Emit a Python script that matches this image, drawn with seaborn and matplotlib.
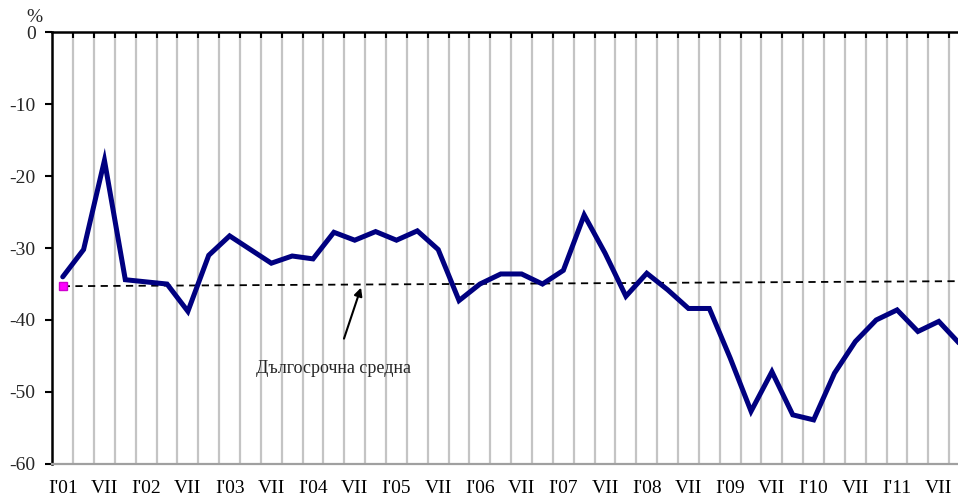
import numpy as np
import pandas as pd
import matplotlib
matplotlib.use("Agg")
import matplotlib.pyplot as plt
import seaborn as sns

# ---- data (quarterly, Q1 2001 .. Q4 2011) ----
values = [-34.0, -30.2, -17.8, -34.4, -34.7, -35.0, -38.8, -31.0,
          -28.3, -30.2, -32.1, -31.1, -31.5, -27.8, -28.9, -27.7,
          -28.9, -27.6, -30.2, -37.3, -35.0, -33.6, -33.6, -35.0,
          -33.1, -25.4, -30.7, -36.7, -33.5, -35.8, -38.4, -38.4,
          -45.3, -52.7, -47.2, -53.2, -53.9, -47.4, -43.0, -40.0,
          -38.6, -41.6, -40.2, -43.3]
tick_labels = ["I'01", "VII", "I'02", "VII", "I'03", "VII", "I'04", "VII",
               "I'05", "VII", "I'06", "VII", "I'07", "VII", "I'08", "VII",
               "I'09", "VII", "I'10", "VII", "I'11", "VII"]
avg_idx = [0, 43]
avg_values = [-35.3, -34.6]
avg_label = "Дългосрочна средна"
y_unit = "%"

sns.set_style("white")
plt.rcParams['font.family'] = ['Liberation Serif', 'DejaVu Serif']

n = len(values)
df = pd.DataFrame({"q": np.arange(n), "v": values})
avg_df = pd.DataFrame({"q": avg_idx, "v": avg_values})

fig = plt.figure(figsize=(9.58, 4.99), dpi=100)
ax = fig.add_axes([0.0546, 0.0707, 0.958, 0.8642])

# vertical grid lines at category boundaries
ax.set_xticks(np.arange(n) + 0.5, minor=True)
ax.grid(which='minor', axis='x', color='#c4c4c4', lw=1.6, zorder=0)
ax.grid(which='major', visible=False)

sns.lineplot(data=avg_df, x="q", y="v", ax=ax, color='black', lw=1.3,
             linestyle=(0, (4, 3)), zorder=2)
ax.plot([avg_idx[0]], [avg_values[0]], marker='s', ms=6, mfc='#ff00ff',
        mec='#d000d0', ls='none', zorder=3)
sns.lineplot(data=df, x="q", y="v", ax=ax, color='#000080', lw=3.6,
             zorder=4, solid_joinstyle='miter')

ax.set_xlim(-0.5, n - 0.5)
ax.set_ylim(-60, 0)
ax.set_yticks(np.arange(-60, 1, 10))
ax.set_yticklabels([str(t) for t in range(-60, 1, 10)])
ax.set_xticks(np.arange(0, n, 2))
ax.set_xticklabels(tick_labels)
ax.set_xlabel("")
ax.set_ylabel("")

ax.tick_params(axis='x', which='major', length=0, bottom=True, top=False,
               labelsize=14, pad=12, colors='black')
ax.tick_params(axis='x', which='minor', top=True, bottom=False,
               direction='in', length=4, width=1.5, color='black')
ax.tick_params(axis='y', which='major', left=True, direction='out',
               length=5, width=1.5, labelsize=14, pad=7, color='black')

for s in ['left', 'top']:
    ax.spines[s].set_color('black')
    ax.spines[s].set_linewidth(1.8)
ax.spines['bottom'].set_color('#a0a0a0')
ax.spines['bottom'].set_linewidth(1.6)
ax.spines['right'].set_visible(False)

fig.text(34 / 958, 1 - 17 / 499, y_unit, fontsize=14, ha='center', va='center')

# annotation
ax.annotate(avg_label, xy=(14.3, -35.5), xytext=(13.0, -46.8),
            fontsize=13, ha='center', va='center',
            arrowprops=dict(arrowstyle='-|>', color='black', lw=1.5,
                            mutation_scale=12, shrinkA=14, shrinkB=0))

fig.savefig("out.png", dpi=100)
